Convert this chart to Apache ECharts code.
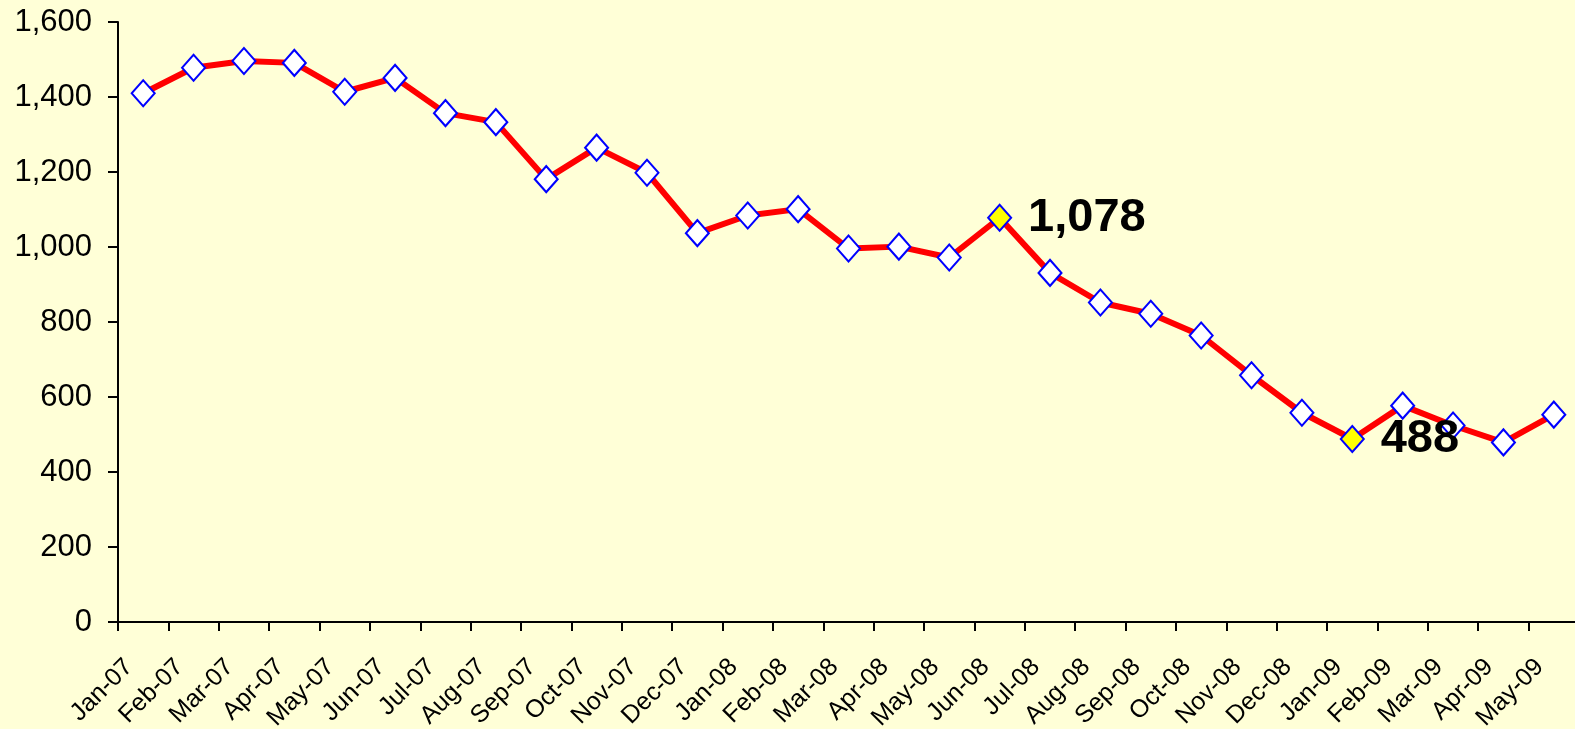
<!DOCTYPE html>
<html>
<head>
<meta charset="utf-8">
<script src="https://cdn.jsdelivr.net/npm/echarts@6/dist/echarts.min.js"></script>
<style>
  html, body { margin: 0; padding: 0; background: #FFFFD7; }
  #chart { width: 1575px; height: 729px; }
</style>
</head>
<body>
<div id="chart"></div>
<script>
// monthly values, Jan-07 .. May-09
const categories = [
  'Jan-07', 'Feb-07', 'Mar-07', 'Apr-07', 'May-07', 'Jun-07', 'Jul-07', 'Aug-07',
  'Sep-07', 'Oct-07', 'Nov-07', 'Dec-07', 'Jan-08', 'Feb-08', 'Mar-08', 'Apr-08',
  'May-08', 'Jun-08', 'Jul-08', 'Aug-08', 'Sep-08', 'Oct-08', 'Nov-08', 'Dec-08',
  'Jan-09', 'Feb-09', 'Mar-09', 'Apr-09', 'May-09'
];
const values = [
  1410, 1478, 1496, 1491, 1414, 1451, 1357, 1333,
  1181, 1265, 1198, 1037, 1084, 1101, 996, 1001,
  972, 1078, 931, 852, 822, 764, 658, 558,
  488, 577, 524, 479, 553
];
// points picked out in yellow with a big label
const highlightIdx = [17, 24];
const yTicks = [0, 200, 400, 600, 800, 1000, 1200, 1400, 1600];

const chart = echarts.init(document.getElementById('chart'));

const seriesData = values.map((v, i) => {
  if (highlightIdx.indexOf(i) < 0) return v;
  return {
    value: v,
    itemStyle: { color: '#FFFF00' },
    label: {
      show: true,
      position: 'right',
      distance: 16,
      formatter: p => p.value.toLocaleString('en-US'),
      fontFamily: '"Liberation Sans", Arial, sans-serif',
      fontWeight: 'bold',
      fontSize: 47,
      color: '#000'
    }
  };
});

const option = {
  backgroundColor: '#FFFFD7',
  animation: false,
  grid: { left: 118, right: -4, top: 22, bottom: 107, outerBoundsMode: 'none', containLabel: false },
  xAxis: {
    type: 'category',
    data: categories,
    boundaryGap: true,
    axisLine: { lineStyle: { color: '#000', width: 2 } },
    axisTick: { show: true, interval: 0, length: 9, lineStyle: { color: '#000', width: 2 } },
    axisLabel: {
      interval: 0,
      rotate: 45,
      margin: 27,
      padding: [0, 20, 0, 0],
      fontFamily: '"Liberation Sans", Arial, sans-serif',
      fontSize: 25,
      color: '#000'
    }
  },
  yAxis: {
    type: 'value',
    min: yTicks[0],
    max: yTicks[yTicks.length - 1],
    interval: yTicks[1] - yTicks[0],
    splitLine: { show: false },
    axisLine: { show: true, lineStyle: { color: '#000', width: 2 } },
    axisTick: { show: true, length: 10, lineStyle: { color: '#000', width: 2 } },
    axisLabel: {
      margin: 26,
      fontFamily: '"Liberation Sans", Arial, sans-serif',
      fontSize: 31,
      color: '#000',
      formatter: v => v.toLocaleString('en-US')
    }
  },
  series: [{
    type: 'line',
    data: seriesData,
    symbol: 'diamond',
    symbolSize: [23, 26],
    showAllSymbol: true,
    lineStyle: { color: '#FF0000', width: 6 },
    itemStyle: { color: '#FFFFFF', borderColor: '#0000FF', borderWidth: 2 },
    label: { show: false },
    z: 3
  }]
};

option && chart.setOption(option);
</script>
</body>
</html>
